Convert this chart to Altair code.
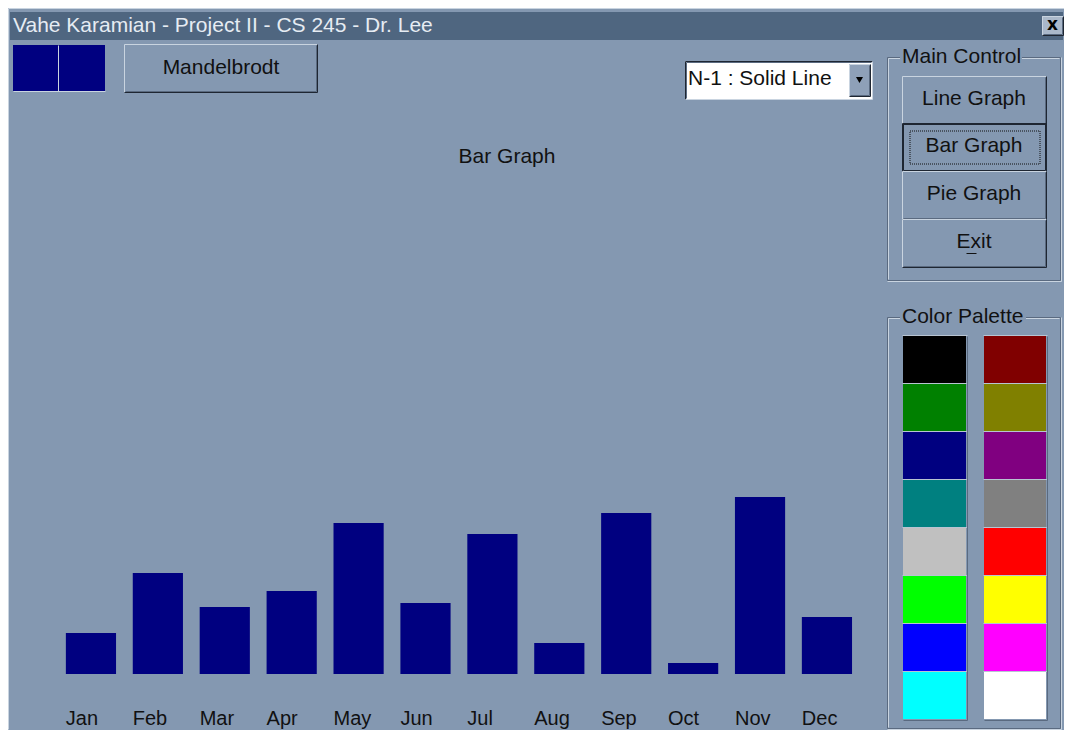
import altair as alt
import pandas as pd

# ---------------- data ----------------
months = ["Jan", "Feb", "Mar", "Apr", "May", "Jun", "Jul", "Aug", "Sep", "Oct", "Nov", "Dec"]
values = [41, 101, 67, 83, 151, 71, 140, 31, 161, 11, 177, 57]

palette_left = ["#000000", "#008000", "#000080", "#008080", "#c0c0c0", "#00ff00", "#0000ff", "#00ffff"]
palette_right = ["#800000", "#808000", "#800080", "#808080", "#ff0000", "#ffff00", "#ff00ff", "#ffffff"]
control_buttons = ["Line Graph", "Bar Graph", "Pie Graph", "Exit"]
window_title = "Vahe Karamian - Project II - CS 245 - Dr. Lee"
graph_title = "Bar Graph"
combo_text = "N-1 : Solid Line"
side_button = "Mandelbrodt"
group_labels = ["Main Control", "Color Palette"]

# ---------------- layout / style ----------------
W, H = 1056, 722
OFF = 8                      # page margin: chart origin sits at image (8, 8)
BG = "#8498b1"
TITLEBAR = "#4f6680"
LIGHT = "#c9d4e0"
DARK = "#1e2632"
SHADOW = "#5a6a80"
FONT = "Liberation Sans"
FS = 21

rects, lines, texts_c, texts_l = [], [], [], []


def rect(x1, y1, x2, y2, fill, stroke=None, sw=0):
    rects.append(dict(x=x1 - OFF, x2=x2 - OFF, y=y1 - OFF, y2=y2 - OFF,
                      fill=fill, stroke=stroke or fill, sw=sw))


def line(x1, y1, x2, y2, color, w=1):
    lines.append(dict(x=x1 - OFF + 0.5, x2=x2 - OFF + 0.5, y=y1 - OFF + 0.5,
                      y2=y2 - OFF + 0.5, color=color, w=w))


def raised(x1, y1, x2, y2, face=BG, pressed=False):
    rect(x1, y1, x2, y2, face)
    if pressed:
        line(x1, y1, x2, y1, DARK); line(x1, y1, x1, y2, DARK)
        line(x1, y2, x2, y2, DARK); line(x2, y1, x2, y2, DARK)
        line(x1 + 1, y1 + 1, x2 - 1, y1 + 1, DARK); line(x1 + 1, y1 + 1, x1 + 1, y2 - 1, DARK)
        line(x1 + 1, y2 - 1, x2 - 1, y2 - 1, DARK); line(x2 - 1, y1 + 1, x2 - 1, y2 - 1, DARK)
    else:
        line(x1, y1, x2, y1, LIGHT); line(x1, y1, x1, y2, LIGHT)
        line(x1, y2, x2, y2, DARK); line(x2, y1, x2, y2, DARK)
        line(x1 + 1, y2 - 1, x2 - 1, y2 - 1, SHADOW); line(x2 - 1, y1 + 1, x2 - 1, y2 - 1, SHADOW)


def text_c(s, x, y, color="#111111", size=FS):
    texts_c.append(dict(t=s, x=x - OFF, y=y - OFF, color=color, size=size))


def text_l(s, x, y, color="#111111", size=FS):
    texts_l.append(dict(t=s, x=x - OFF, y=y - OFF, color=color, size=size))


def group(x1, y1, x2, y2):
    line(x1, y1, x2, y1, SHADOW); line(x1, y1, x1, y2, SHADOW)
    line(x1, y2, x2, y2, SHADOW); line(x2, y1, x2, y2, SHADOW)
    line(x1 + 1, y1 + 1, x2 - 1, y1 + 1, LIGHT); line(x1 + 1, y1 + 1, x1 + 1, y2 - 1, LIGHT)
    line(x1, y2 + 1, x2 + 1, y2 + 1, LIGHT); line(x2 + 1, y1, x2 + 1, y2 + 1, LIGHT)


# window frame + title bar
line(8, 8, 1064, 8, LIGHT)
line(8, 8, 8, 729, LIGHT)
rect(10, 12, 1063, 40, TITLEBAR)
text_l(window_title, 13, 26, color="#e6ecf3")
raised(1042, 16, 1063, 35, face="#aab8ca")

# navy squares + Mandelbrodt button
rect(13, 45, 105, 91, "#000080")
line(58, 45, 58, 91, LIGHT)
line(13, 91, 105, 91, LIGHT)
raised(124, 44, 317, 92)
text_c(side_button, 221, 68)

# combo box
rect(685, 61, 872, 99, "#ffffff")
line(685, 61, 872, 61, DARK); line(685, 61, 685, 99, DARK)
line(686, 62, 871, 62, SHADOW); line(686, 62, 686, 98, SHADOW)
line(685, 99, 872, 99, LIGHT); line(872, 61, 872, 99, LIGHT)
raised(849, 64, 870, 96, face="#8ea0b8")
text_l(combo_text, 688, 79)

# main control group
group(887, 57, 1060, 280)
btn_tops = [76, 123, 171, 219]
for i, lab in enumerate(control_buttons):
    y1 = btn_tops[i]
    y2 = y1 + 48
    raised(902, y1, 1046, y2, pressed=(lab == graph_title))
    text_c(lab, 974, y1 + 23)
line(966, 253, 976, 253, "#111111")      # underline of the Exit accelerator
focus = [dict(x=910 - OFF, x2=1040 - OFF, y=131 - OFF, y2=164 - OFF)]

# color palette group
group(887, 317, 1060, 728)
for i in range(8):
    y1 = 336 + 48 * i
    rect(903, y1, 966, y1 + 47, palette_left[i])
    rect(984, y1, 1046, y1 + 47, palette_right[i])
    line(902, y1 - 1, 967, y1 - 1, "#b8c4d2")
    line(983, y1 - 1, 1047, y1 - 1, "#b8c4d2")
line(967, 336, 967, 720, SHADOW); line(1047, 336, 1047, 720, SHADOW)
line(903, 720, 967, 720, SHADOW); line(984, 720, 1047, 720, SHADOW)

# group labels (drawn over a knock-out so the frame breaks behind them)
text_l(group_labels[0], 902, 57)
text_l(group_labels[1], 902, 317)

# graph title
text_c(graph_title, 507, 157)

df_rects = pd.DataFrame(rects)
df_lines = pd.DataFrame(lines)
df_tc = pd.DataFrame(texts_c)
df_tl = pd.DataFrame(texts_l)
df_focus = pd.DataFrame(focus)
df_close = pd.DataFrame([dict(t="x", x=1052.5 - OFF, y=25 - OFF)])
df_arrow = pd.DataFrame([dict(x=859.5 - OFF, y=80 - OFF)])
df_knock = pd.DataFrame([
    dict(x=900 - OFF, x2=1022 - OFF, y=50 - OFF, y2=64 - OFF),
    dict(x=900 - OFF, x2=1026 - OFF, y=310 - OFF, y2=324 - OFF),
])

ix = lambda f: alt.X(f, type="quantitative", scale=None, axis=None)
iy = lambda f: alt.Y(f, type="quantitative", scale=None, axis=None)

l_rects = alt.Chart(df_rects).mark_rect().encode(
    x=ix("x"), x2="x2", y=iy("y"), y2="y2",
    fill=alt.Fill("fill:N", scale=None),
    stroke=alt.Stroke("stroke:N", scale=None),
    strokeWidth=alt.StrokeWidth("sw:Q", scale=None),
)
l_lines = alt.Chart(df_lines).mark_rule().encode(
    x=ix("x"), x2="x2", y=iy("y"), y2="y2",
    color=alt.Color("color:N", scale=None),
    strokeWidth=alt.StrokeWidth("w:Q", scale=None),
)
l_knock = alt.Chart(df_knock).mark_rect(color=BG).encode(
    x=ix("x"), x2="x2", y=iy("y"), y2="y2",
)
l_focus = alt.Chart(df_focus).mark_rect(
    fillOpacity=0, stroke="#111111", strokeWidth=1, strokeDash=[1, 1]
).encode(x=ix("x"), x2="x2", y=iy("y"), y2="y2")
l_arrow = alt.Chart(df_arrow).mark_point(
    shape="triangle-down", filled=True, color="#000000", size=50, opacity=1
).encode(x=ix("x"), y=iy("y"))
l_tc = alt.Chart(df_tc).mark_text(align="center", baseline="middle", font=FONT).encode(
    x=ix("x"), y=iy("y"), text="t:N",
    color=alt.Color("color:N", scale=None),
    size=alt.Size("size:Q", scale=None),
)
l_tl = alt.Chart(df_tl).mark_text(align="left", baseline="middle", font=FONT, fontSize=FS).encode(
    x=ix("x"), y=iy("y"), text="t:N",
    color=alt.Color("color:N", scale=None),
)
l_close = alt.Chart(df_close).mark_text(
    align="center", baseline="middle", font="DejaVu Sans", fontSize=17, fontWeight="bold", color="#000000"
).encode(x=ix("x"), y=iy("y"), text="t:N")

# ---------------- the bar graph itself ----------------
df_bars = pd.DataFrame({"month": months, "value": values})
xscale = alt.Scale(range=[57.5 - OFF, 860.4 - OFF], paddingInner=0.25, paddingOuter=0.125)
bars = alt.Chart(df_bars).mark_bar(color="#000080").encode(
    x=alt.X("month:N", sort=months, axis=None, scale=xscale),
    y=alt.Y("value:Q", axis=None, scale=alt.Scale(domain=[0, 200], range=[674 - OFF, 474 - OFF])),
)
month_labels = alt.Chart(df_bars).mark_text(
    align="left", baseline="alphabetic", font=FONT, fontSize=20, color="#111111"
).encode(
    x=alt.X("month:N", sort=months, axis=None, scale=xscale, bandPosition=0),
    y=alt.value(725 - OFF),
    text="month:N",
)
graph = alt.layer(bars, month_labels)

chart = alt.layer(
    l_rects, l_lines, l_knock, l_focus, l_arrow, l_tc, l_tl, l_close, graph
).resolve_scale(x="independent", y="independent").properties(
    width=W, height=H,
    autosize=alt.AutoSizeParams(type="none"),
    padding=0,
    background=BG,
).configure_view(stroke=None)

chart.save("out.html", embed_options={"renderer": "svg", "actions": False})
